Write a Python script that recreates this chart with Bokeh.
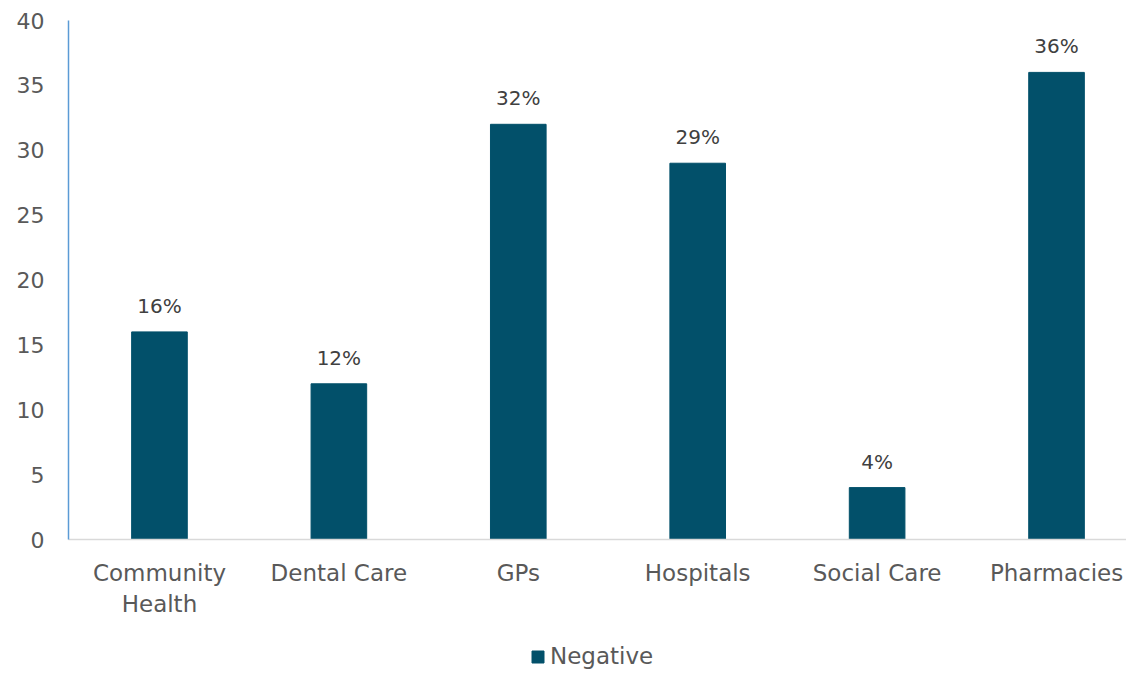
from bokeh.plotting import figure
from bokeh.layouts import column
from bokeh.models import ColumnDataSource, Range1d, LabelSet, Legend, LegendItem
from bokeh.core.properties import value
from bokeh.embed import file_html
from bokeh.resources import INLINE

categories = ["Community\nHealth", "Dental Care", "GPs", "Hospitals", "Social Care", "Pharmacies"]
negative = [16, 12, 32, 29, 4, 36]
labels = ["16%", "12%", "32%", "29%", "4%", "36%"]
y_ticks = [0, 5, 10, 15, 20, 25, 30, 35, 40]
series_name = "Negative"

FONT = "DejaVu Sans"
BAR = "#02506A"

xpos = [i + 0.5 for i in range(len(categories))]
src = ColumnDataSource(dict(x=xpos, cat=categories, val=negative, lab=labels))

p = figure(width=1126, height=625, output_backend="svg", toolbar_location=None,
           x_range=Range1d(-0.007, 5.89), y_range=Range1d(0, 40),
           min_border_left=68, min_border_top=20, min_border_right=0, min_border_bottom=86)
p.outline_line_color = None
p.grid.grid_line_color = None

r = p.vbar(x="x", top="val", width=0.31, source=src, fill_color=BAR, line_color=BAR)

p.add_layout(LabelSet(x="x", y="val", text="lab", source=src, text_align="center",
                      text_baseline="bottom", y_offset=14, text_font=value(FONT),
                      text_font_size="20px", text_color="#404040"))

p.yaxis.ticker = y_ticks
p.yaxis.axis_line_color = "#5B9BD5"
p.yaxis.axis_line_width = 1.5
p.yaxis.major_tick_line_color = None
p.yaxis.minor_tick_line_color = None
p.yaxis.major_label_text_font = FONT
p.yaxis.major_label_text_font_size = "22px"
p.yaxis.major_label_text_color = "#595959"
p.yaxis.major_label_standoff = 18

p.xaxis.ticker = xpos
p.xaxis.major_label_overrides = {x: c for x, c in zip(xpos, categories)}
p.xaxis.axis_line_color = "#D9D9D9"
p.xaxis.axis_line_width = 1.5
p.xaxis.major_tick_line_color = None
p.xaxis.minor_tick_line_color = None
p.xaxis.major_label_text_font = FONT
p.xaxis.major_label_text_font_size = "23px"
p.xaxis.major_label_text_color = "#595959"
p.xaxis.major_label_standoff = 14

# legend strip below the chart (its key bars lie outside the strip's ranges, so only the legend shows)
p2 = figure(width=1126, height=49, output_backend="svg", toolbar_location=None,
            x_range=Range1d(-0.007, 5.89), y_range=Range1d(100, 101),
            x_axis_location=None, y_axis_location=None,
            min_border_left=68, min_border_top=0, min_border_right=0, min_border_bottom=0)
p2.outline_line_color = None
p2.grid.visible = False
key = p2.vbar(x="x", top="val", width=0.31, source=src, fill_color=BAR, line_color=BAR)
legend = Legend(items=[LegendItem(label=series_name, renderers=[key])], orientation="horizontal",
                location=(462, 5), label_text_font=FONT, label_text_font_size="23px",
                label_text_color="#595959", border_line_color=None, background_fill_alpha=0,
                glyph_width=15, glyph_height=15, label_standoff=5, margin=0, padding=0,
                label_height=22)
p2.add_layout(legend, "center")

layout = column(p, p2, spacing=0)
open("out.html", "w").write(file_html(layout, INLINE))
